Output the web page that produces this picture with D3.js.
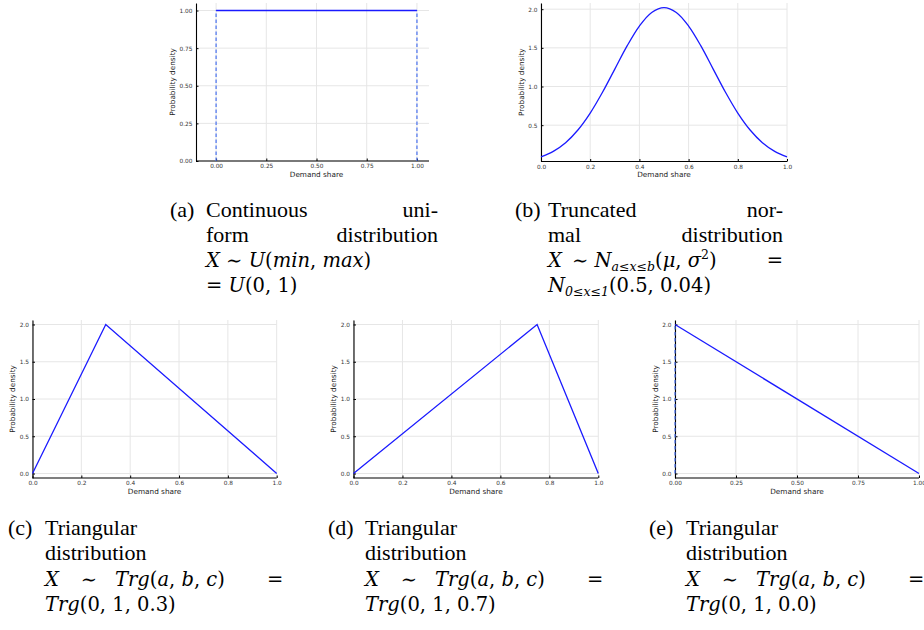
<!DOCTYPE html>
<html>
<head>
<meta charset="utf-8">
<script src="https://cdn.jsdelivr.net/npm/d3@7"></script>
<style>
  body { margin: 0; background: #fff; }
  svg { display: block; }
</style>
</head>
<body>
<script>
// ---- values ----
const uniformX = [0, 1]
const uniformY = [1, 1]
const uniformBounds = [0, 1]          // dashed verticals (0 -> 1)

const normalX = [0, 0.05, 0.1, 0.15, 0.2, 0.25, 0.3, 0.35, 0.4, 0.45, 0.5,
                 0.55, 0.6, 0.65, 0.7, 0.75, 0.8, 0.85, 0.9, 0.95, 1]
const normalY = [0.089, 0.161, 0.273, 0.437, 0.656, 0.925, 1.225, 1.525, 1.782, 1.958, 2.02,
                 1.958, 1.782, 1.525, 1.225, 0.925, 0.656, 0.437, 0.273, 0.161, 0.089]

const triCX = [0, 0.3, 1]
const triCY = [0, 2, 0]
const triDX = [0, 0.75, 1]
const triDY = [0, 2, 0]
const triEX = [0, 1]
const triEY = [2, 0]
const triEBounds = [0]                // dashed vertical (0 -> 2)

const ticksQuarter = ["0.00", "0.25", "0.50", "0.75", "1.00"]
const ticksTenth = ["0.0", "0.2", "0.4", "0.6", "0.8", "1.0"]
const ticksNormalY = ["0.5", "1.0", "1.5", "2.0"]
const ticksTriY = ["0.0", "0.5", "1.0", "1.5", "2.0"]

const xTitle = "Demand share"
const yTitle = "Probability density"

// ---- layout ----
const W = 924, H = 630
const svg = d3.select("body").append("svg").attr("width", W).attr("height", H)

const panels = [
  {l: 196, r: 429, t: 3, b: 161, xd: [-0.1, 1.06], yd: [0, 1.05],
   xt: ticksQuarter, yt: ticksQuarter, xs: uniformX, ys: uniformY,
   bounds: uniformBounds, bTop: 1, ylab: 172.5, xlabY: 176.5},
  {l: 541, r: 787, t: 3, b: 161.5, xd: [0, 1], yd: [0.03, 2.08],
   xt: ticksTenth, yt: ticksNormalY, xs: normalX, ys: normalY,
   bounds: [], ylab: 521, xlabY: 176.5, curve: d3.curveCatmullRom},
  {l: 32.5, r: 276.7, t: 320, b: 478, xd: [0, 1], yd: [-0.06, 2.06],
   xt: ticksTenth, yt: ticksTriY, xs: triCX, ys: triCY,
   bounds: [], ylab: 12, xlabY: 494},
  {l: 353.5, r: 598.3, t: 320, b: 478, xd: [0, 1], yd: [-0.06, 2.06],
   xt: ticksTenth, yt: ticksTriY, xs: triDX, ys: triDY,
   bounds: [], ylab: 333, xlabY: 494},
  {l: 675, r: 919, t: 320, b: 478, xd: [0, 1], yd: [-0.06, 2.06],
   xt: ticksQuarter, yt: ticksTriY, xs: triEX, ys: triEY,
   bounds: triEBounds, bTop: 2, ylab: 655.5, xlabY: 494}
]

const sans = "DejaVu Sans, sans-serif"

panels.forEach(function(p) {
  const x = d3.scaleLinear().domain(p.xd).range([p.l, p.r])
  const y = d3.scaleLinear().domain(p.yd).range([p.b, p.t])
  const g = svg.append("g")

  // grid
  g.append("g").selectAll("line").data(p.xt).enter().append("line")
    .attr("x1", d => x(+d)).attr("x2", d => x(+d))
    .attr("y1", p.t).attr("y2", p.b)
    .attr("stroke", "#e6e6e6").attr("stroke-width", 1)
  g.append("g").selectAll("line").data(p.yt).enter().append("line")
    .attr("x1", p.l).attr("x2", p.r)
    .attr("y1", d => y(+d)).attr("y2", d => y(+d))
    .attr("stroke", "#e6e6e6").attr("stroke-width", 1)

  // axes
  const xAxis = d3.axisBottom(x).tickValues(p.xt.map(Number))
    .tickFormat((d, i) => p.xt[i]).tickSize(-2.5).tickSizeOuter(0).tickPadding(4)
  const yAxis = d3.axisLeft(y).tickValues(p.yt.map(Number))
    .tickFormat((d, i) => p.yt[i]).tickSize(-2.5).tickSizeOuter(0).tickPadding(3.5)

  const gx = g.append("g").attr("transform", "translate(0," + p.b + ")").call(xAxis)
  const gy = g.append("g").attr("transform", "translate(" + p.l + ",0)").call(yAxis)
  ;[gx, gy].forEach(function(a) {
    a.attr("font-family", sans).attr("font-size", 5.8)
    a.selectAll("text").attr("fill", "#333")
    a.selectAll(".tick line").attr("stroke", "#000")
    a.select(".domain").attr("stroke", "#000").attr("stroke-width", 1.1)
  })
  gx.selectAll("text").attr("dy", "0.55em")
  gx.select(".domain").attr("d", "M" + p.l + ",0H" + p.r)

  // dashed bounds
  g.append("g").selectAll("line").data(p.bounds).enter().append("line")
    .attr("x1", d => x(d)).attr("x2", d => x(d))
    .attr("y1", y(0)).attr("y2", y(p.bTop))
    .attr("stroke", "#4a72f0").attr("stroke-width", 1.2)
    .attr("stroke-dasharray", "3.5,2.5")

  // density line
  const line = d3.line().x(d => x(d[0])).y(d => y(d[1]))
  if (p.curve) line.curve(p.curve)
  g.append("path")
    .datum(p.xs.map((v, i) => [v, p.ys[i]]))
    .attr("d", line)
    .attr("fill", "none").attr("stroke", "#1a1aff").attr("stroke-width", 1.3)

  // titles
  g.append("text").attr("x", (x(0) + x(1)) / 2).attr("y", p.xlabY)
    .attr("text-anchor", "middle").attr("font-family", sans).attr("font-size", 7.3)
    .attr("fill", "#222").text(xTitle)
  g.append("text")
    .attr("transform", "translate(" + (p.ylab + 2.6) + "," + ((p.t + p.b) / 2) + ") rotate(-90)")
    .attr("text-anchor", "middle").attr("font-family", sans).attr("font-size", 7.3)
    .attr("fill", "#222").text(yTitle)
})

// ---- captions ----
// plain words in Liberation Serif, formula parts ("m", "mi") in DejaVu Serif
const serif = "Liberation Serif, serif"
const mathFont = "DejaVu Serif, serif"
function put(xp, yp, anchor, spans) {
  const t = svg.append("text").attr("x", xp).attr("y", yp)
    .attr("text-anchor", anchor).attr("font-family", serif).attr("font-size", 22)
    .attr("fill", "#000")
  spans.forEach(function(s) {
    const ts = t.append("tspan").text(s[0])
    const o = (s[1] || "m").split(" ")
    if (o.includes("m") || o.includes("mi")) ts.attr("font-family", mathFont).attr("font-size", 19.5)
    if (o.includes("mi")) ts.attr("font-style", "italic")
    if (o.includes("sub")) ts.attr("font-size", 12.5).attr("dy", 3.5)
    if (o.includes("sup")) ts.attr("font-size", 12.5).attr("dy", -8)
    if (o.includes("up")) ts.attr("dy", -3.5)
    if (o.includes("down")) ts.attr("dy", 8)
  })
}
const word = s => [[s, "w"]]

const rowsTop = [217, 242, 267, 292]
// (a)
put(170, rowsTop[0], "start", word("(a)"))
put(206, rowsTop[0], "start", word("Continuous"))
put(438, rowsTop[0], "end", word("uni-"))
put(206, rowsTop[1], "start", word("form"))
put(438, rowsTop[1], "end", word("distribution"))
put(206, rowsTop[2], "start", [["X", "mi"], [" ∼ "], ["U", "mi"], ["("], ["min", "mi"], [", "], ["max", "mi"], [")"]])
put(206, rowsTop[3], "start", [["= "], ["U", "mi"], ["(0, 1)"]])
// (b)
put(515, rowsTop[0], "start", word("(b)"))
put(548, rowsTop[0], "start", word("Truncated"))
put(783, rowsTop[0], "end", word("nor-"))
put(548, rowsTop[1], "start", word("mal"))
put(783, rowsTop[1], "end", word("distribution"))
put(548, rowsTop[2], "start", [["X", "mi"]])
put(572, rowsTop[2], "start", [["∼ "], ["N", "mi"], ["a≤x≤b", "mi sub"], ["(", "m up"],
  ["μ", "mi"], [", "], ["σ", "mi"], ["2", "m sup"], [")", "m down"]])
put(783, rowsTop[2], "end", [["="]])
put(548, rowsTop[3], "start", [["N", "mi"], ["0≤x≤1", "mi sub"], ["(0.5, 0.04)", "m up"]])

// (c) (d) (e)
const rowsBot = [535, 560, 586, 611]
const bottomCaps = [["(c)", "0.3", 0], ["(d)", "0.7", 320], ["(e)", "0.0", 641]]
bottomCaps.forEach(function(c) {
  const o = c[2]
  put(o + 8, rowsBot[0], "start", word(c[0]))
  put(o + 45, rowsBot[0], "start", word("Triangular"))
  put(o + 45, rowsBot[1], "start", word("distribution"))
  put(o + 45, rowsBot[2], "start", [["X", "mi"]])
  put(o + 89, rowsBot[2], "middle", [["∼"]])
  put(o + 115, rowsBot[2], "start", [["Trg", "mi"], ["("], ["a", "mi"], [", "], ["b", "mi"], [", "], ["c", "mi"], [")"]])
  put(o + 267, rowsBot[2], "start", [["="]])
  put(o + 45, rowsBot[3], "start", [["Trg", "mi"], ["(0, 1, " + c[1] + ")"]])
})
</script>
</body>
</html>
